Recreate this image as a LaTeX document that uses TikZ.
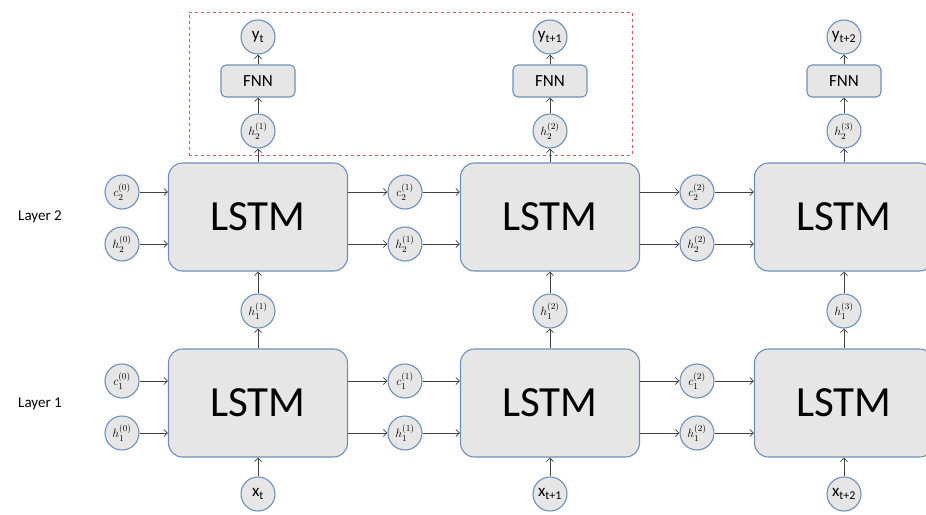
\documentclass[tikz,border=0pt]{standalone}
\usepackage{fontspec}
\setmainfont{Carlito}
\usepackage{tikz}
\usepackage{xcolor}
\usetikzlibrary{positioning,arrows.meta}
\definecolor{cellfill}{HTML}{E6E6E6}
\definecolor{celledge}{HTML}{6C90B8}
\definecolor{wire}{HTML}{404040}
\definecolor{frame}{HTML}{E0555A}

\begin{document}
\begin{tikzpicture}[x=1pt, y=-1pt,
  lstmbox/.style={rounded corners=14pt, fill=cellfill, draw=celledge, line width=1.1pt, minimum width=179pt, minimum height=108pt, font=\fontsize{43}{45}\selectfont},
  fnnbox/.style={rounded corners=5pt, fill=cellfill, draw=celledge, line width=1.1pt, minimum width=74pt, minimum height=32pt, font=\fontsize{17}{19}\selectfont},
  state/.style={circle, fill=cellfill, draw=celledge, line width=1.1pt, minimum size=34pt, inner sep=0pt, font=\fontsize{13}{14}\selectfont},
  io/.style={circle, fill=cellfill, draw=celledge, line width=1.1pt, minimum size=34pt, inner sep=0pt, font=\fontsize{17}{18}\selectfont},
  flow/.style={-{Straight Barb[length=3.5pt,width=7pt]}, line width=0.8pt, color=wire}]
\clip (0,0) rectangle (926,514);
% layer labels
\node[font=\fontsize{15}{17}\selectfont] (layertwo) at (40,217) {Layer 2};
\node[font=\fontsize{15}{17}\selectfont] (layerone) at (40,404) {Layer 1};
% output frame
\node[draw=frame, dashed, line width=0.6pt, minimum width=443pt, minimum height=143pt, inner sep=0pt] (outframe) at (410.5,83.5) {};
% lstm cells
\node[lstmbox] (lstmtwoA) at (258,217) {LSTM};
\node[lstmbox] (lstmtwoB) at (550,217) {LSTM};
\node[lstmbox] (lstmtwoC) at (844,217) {LSTM};
\node[lstmbox] (lstmoneA) at (258,403) {LSTM};
\node[lstmbox] (lstmoneB) at (550,403) {LSTM};
\node[lstmbox] (lstmoneC) at (844,403) {LSTM};
% states layer 2
\node[state] (ctwoA) at (122,192) {$c_2^{(0)}$};
\node[state] (htwoA) at (122,244) {$h_2^{(0)}$};
\node[state] (ctwoB) at (405,192) {$c_2^{(1)}$};
\node[state] (htwoB) at (405,244) {$h_2^{(1)}$};
\node[state] (ctwoC) at (697,192) {$c_2^{(2)}$};
\node[state] (htwoC) at (697,244) {$h_2^{(2)}$};
% states layer 1
\node[state] (coneA) at (122,381) {$c_1^{(0)}$};
\node[state] (honeA) at (122,433) {$h_1^{(0)}$};
\node[state] (coneB) at (405,381) {$c_1^{(1)}$};
\node[state] (honeB) at (405,433) {$h_1^{(1)}$};
\node[state] (coneC) at (697,381) {$c_1^{(2)}$};
\node[state] (honeC) at (697,433) {$h_1^{(2)}$};
% vertical states
\node[state] (upA) at (258,311) {$h_1^{(1)}$};
\node[state] (upB) at (550,311) {$h_1^{(2)}$};
\node[state] (upC) at (844,311) {$h_1^{(3)}$};
\node[state] (topA) at (258,131) {$h_2^{(1)}$};
\node[state] (topB) at (550,131) {$h_2^{(2)}$};
\node[state] (topC) at (844,131) {$h_2^{(3)}$};
% outputs
\node[fnnbox] (fnnA) at (258,81) {FNN};
\node[fnnbox] (fnnB) at (550,81) {FNN};
\node[fnnbox] (fnnC) at (844,81) {FNN};
\node[io] (outA) at (258,37) {y\textsubscript{t}};
\node[io] (outB) at (550,37) {y\textsubscript{t+1}};
\node[io] (outC) at (844,37) {y\textsubscript{t+2}};
% inputs
\node[io] (inA) at (258,494) {x\textsubscript{t}};
\node[io] (inB) at (550,494) {x\textsubscript{t+1}};
\node[io] (inC) at (844,494) {x\textsubscript{t+2}};
% horizontal flow, layer 2
\draw[flow] (ctwoA) -- (ctwoA -| lstmtwoA.west);
\draw[flow] (htwoA) -- (htwoA -| lstmtwoA.west);
\draw[flow] (ctwoB -| lstmtwoA.east) -- (ctwoB);
\draw[flow] (htwoB -| lstmtwoA.east) -- (htwoB);
\draw[flow] (ctwoB) -- (ctwoB -| lstmtwoB.west);
\draw[flow] (htwoB) -- (htwoB -| lstmtwoB.west);
\draw[flow] (ctwoC -| lstmtwoB.east) -- (ctwoC);
\draw[flow] (htwoC -| lstmtwoB.east) -- (htwoC);
\draw[flow] (ctwoC) -- (ctwoC -| lstmtwoC.west);
\draw[flow] (htwoC) -- (htwoC -| lstmtwoC.west);
% horizontal flow, layer 1
\draw[flow] (coneA) -- (coneA -| lstmoneA.west);
\draw[flow] (honeA) -- (honeA -| lstmoneA.west);
\draw[flow] (coneB -| lstmoneA.east) -- (coneB);
\draw[flow] (honeB -| lstmoneA.east) -- (honeB);
\draw[flow] (coneB) -- (coneB -| lstmoneB.west);
\draw[flow] (honeB) -- (honeB -| lstmoneB.west);
\draw[flow] (coneC -| lstmoneB.east) -- (coneC);
\draw[flow] (honeC -| lstmoneB.east) -- (honeC);
\draw[flow] (coneC) -- (coneC -| lstmoneC.west);
\draw[flow] (honeC) -- (honeC -| lstmoneC.west);
% vertical flow
\draw[flow] (inA) -- (lstmoneA);
\draw[flow] (inB) -- (lstmoneB);
\draw[flow] (inC) -- (lstmoneC);
\draw[flow] (lstmoneA) -- (upA);
\draw[flow] (lstmoneB) -- (upB);
\draw[flow] (lstmoneC) -- (upC);
\draw[flow] (upA) -- (lstmtwoA);
\draw[flow] (upB) -- (lstmtwoB);
\draw[flow] (upC) -- (lstmtwoC);
\draw[flow] (lstmtwoA) -- (topA);
\draw[flow] (lstmtwoB) -- (topB);
\draw[flow] (lstmtwoC) -- (topC);
\draw[flow] (topA) -- (fnnA);
\draw[flow] (topB) -- (fnnB);
\draw[flow] (topC) -- (fnnC);
\draw[flow] (fnnA) -- (outA);
\draw[flow] (fnnB) -- (outB);
\draw[flow] (fnnC) -- (outC);
\end{tikzpicture}
\end{document}
